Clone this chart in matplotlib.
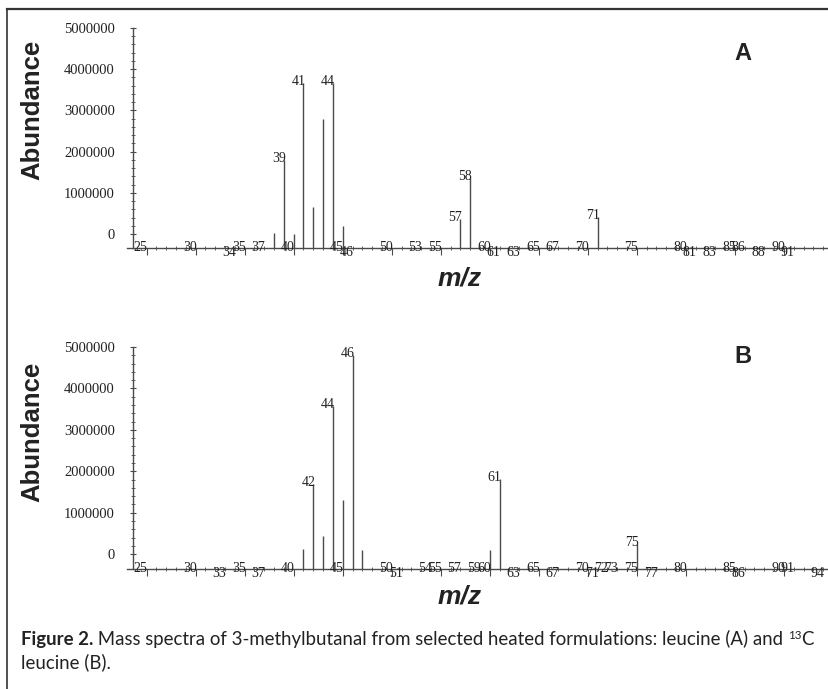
import matplotlib
matplotlib.use("Agg")
import matplotlib.pyplot as plt
from matplotlib.lines import Line2D

# ---------------- data ----------------
yticks = [0, 1000000, 2000000, 3000000, 4000000, 5000000]
ytick_labels = ["0", "1000000", "2000000", "3000000", "4000000", "5000000"]

# Panel A (leucine)
mz_A = [38, 39, 40, 41, 42, 43, 44, 45, 57, 58, 71]
ab_A = [20000, 1800000, 10000, 3660000, 660000, 2790000, 3660000, 190000, 360000, 1360000, 410000]
peak_labels_A = [39, 41, 44, 57, 58, 71]
axis_upper_A = [25, 30, 35, 37, 40, 45, 50, 53, 55, 60, 65, 67, 70, 75, 80, 85, 86, 90]
axis_lower_A = [34, 46, 61, 63, 81, 83, 88, 91]

# Panel B (13C leucine)
mz_B = [41, 42, 43, 44, 45, 46, 47, 60, 61, 75]
ab_B = [120000, 1690000, 440000, 3580000, 1310000, 4800000, 100000, 100000, 1820000, 240000]
peak_labels_B = [42, 44, 46, 61, 75]
axis_upper_B = [25, 30, 35, 40, 45, 50, 54, 55, 57, 59, 60, 65, 70, 72, 73, 75, 80, 85, 90, 91]
axis_lower_B = [33, 37, 51, 63, 67, 71, 77, 86, 94]

W, H = 829, 689
fig = plt.figure(figsize=(W / 100, H / 100), dpi=100)
fig.patch.set_facecolor("white")

TXT = "#222222"
LINE = "#4a4a4a"
SERIF = "Liberation Serif"
SANS = "Liberation Sans"


def add_ax(left, right, top, bottom):
    return fig.add_axes([left / W, 1 - bottom / H, (right - left) / W, (bottom - top) / H])


def draw_panel(ax, mz, ab, peak_labels, upper, lower, ybottom, yaxis_x):
    ax.set_xlim(23.0, 94.6)
    ax.set_ylim(ybottom, 5.0e6)
    ax.set_facecolor("none")
    ax.vlines(mz, ybottom, ab, color=LINE, lw=1.0)
    for s in ["top", "right"]:
        ax.spines[s].set_visible(False)
    ax.spines["left"].set_position(("data", yaxis_x))
    for s in ["left", "bottom"]:
        ax.spines[s].set_color(LINE)
        ax.spines[s].set_linewidth(1.0)
    ax.set_yticks(yticks)
    ax.set_yticklabels(ytick_labels, fontfamily=SERIF, fontsize=10.5, color=TXT)
    ax.set_yticks([v for v in range(0, 5000001, 200000)], minor=True)
    ax.tick_params(axis="y", which="major", direction="inout", length=4, width=0.8,
                   color=LINE, pad=11)
    ax.tick_params(axis="y", which="minor", direction="inout", length=2.5, width=0.6, color=LINE)
    ax.set_xticks(list(range(25, 95, 5)))
    ax.set_xticks(list(range(24, 95)), minor=True)
    ax.set_xticklabels([])
    ax.tick_params(axis="x", which="major", direction="out", length=5, width=0.8, color=LINE)
    ax.tick_params(axis="x", which="minor", direction="inout", length=3, width=0.6, color=LINE)
    tr = ax.get_xaxis_transform()
    for v in upper:
        ax.annotate(str(v), (v - 0.6, 0), xycoords=tr, xytext=(0, 0.5), textcoords="offset points",
                    ha="center", va="center", fontfamily=SERIF, fontsize=10, color=TXT,
                    annotation_clip=False)
    for v in lower:
        ax.annotate(str(v), (v - 0.6, 0), xycoords=tr, xytext=(0, -3.3), textcoords="offset points",
                    ha="center", va="center", fontfamily=SERIF, fontsize=10, color=TXT,
                    annotation_clip=False)
    for v in peak_labels:
        y = ab[mz.index(v)]
        ax.annotate(str(v), (v - 0.5, y), xytext=(0, 1), textcoords="offset points",
                    ha="center", va="center", fontfamily=SERIF, fontsize=10, color=TXT)


axA = add_ax(127, 829, 28, 248)
draw_panel(axA, mz_A, ab_A, peak_labels_A, axis_upper_A, axis_lower_A, -340000, 23.6)
axB = add_ax(127, 829, 347, 569)
draw_panel(axB, mz_B, ab_B, peak_labels_B, axis_upper_B, axis_lower_B, -360000, 23.6)


def fx(px):
    return px / W


def fy(py):
    return 1 - py / H


# axis titles and panel letters
for cy in (110, 432):
    fig.text(fx(32), fy(cy), "Abundance", rotation=90, ha="center", va="center",
             fontfamily=SANS, fontweight="bold", fontsize=18.5, color=TXT)
for cy in (278, 597):
    fig.text(fx(460), fy(cy), "m/z", ha="center", va="center", fontfamily=SANS,
             fontweight="bold", fontstyle="italic", fontsize=19, color=TXT)
fig.text(fx(743), fy(53), "A", ha="center", va="center", fontfamily=SANS,
         fontweight="bold", fontsize=17, color=TXT)
fig.text(fx(743), fy(356), "B", ha="center", va="center", fontfamily=SANS,
         fontweight="bold", fontsize=17, color=TXT)

# frame
fig.add_artist(Line2D([fx(7), fx(829)], [fy(9), fy(9)], color="#333333", lw=1.6,
                      transform=fig.transFigure))
fig.add_artist(Line2D([fx(7), fx(7)], [fy(9), fy(700)], color="#333333", lw=1.2,
                      transform=fig.transFigure))

# caption
CAP = "Lato"
fig.canvas.draw()
renderer = fig.canvas.get_renderer()

line1 = [("Figure 2.", "bold", 1.0, 0),
         (" Mass spectra of 3-methylbutanal from selected heated formulations: leucine (A) and ",
          "normal", 1.0, 0),
         ("13", "normal", 0.62, 0.45),
         ("C", "normal", 1.0, 0)]
line2 = [("leucine (B).", "normal", 1.0, 0)]


def chain(x_px, base_px, pieces, size):
    x = x_px
    made = []
    for txt, weight, rel, rise in pieces:
        t = fig.text(fx(x), fy(base_px - rise * size), txt, ha="left", va="baseline",
                     fontfamily=CAP, fontweight=weight, fontsize=size * rel, color=TXT)
        bb = t.get_window_extent(renderer=renderer)
        x += bb.width
        made.append(t)
    return x - x_px, made


w, made = chain(21, 645, line1, 14)
for t in made:
    t.remove()
size = 14 * 797 / w
chain(21, 645, line1, size)
chain(21, 668, line2, size)

fig.savefig("out.png", dpi=100, facecolor="white")
